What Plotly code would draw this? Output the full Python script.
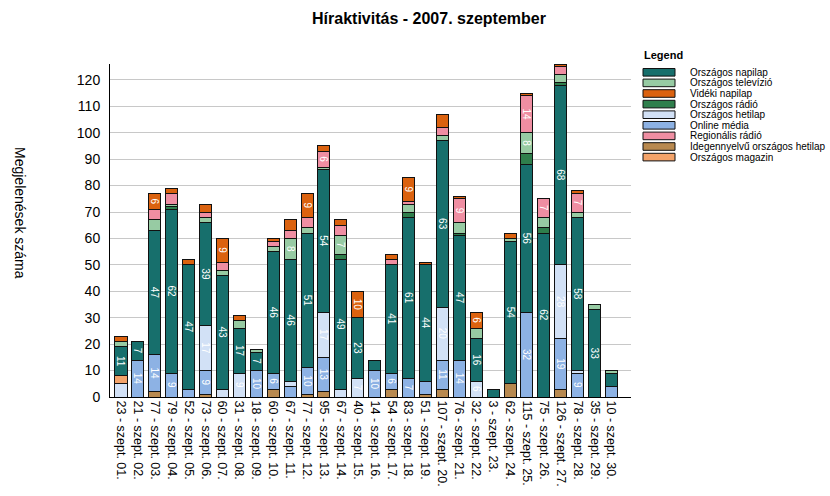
import plotly.graph_objects as go

# ---- data ----
tick_labels = [
    "23 - szept. 01.", "21 - szept. 02.", "77 - szept. 03.", "79 - szept. 04.", "52 - szept. 05.",
    "73 - szept. 06.", "60 - szept. 07.", "31 - szept. 08.", "18 - szept. 09.", "60 - szept. 10.",
    "67 - szept. 11.", "77 - szept. 12.", "95 - szept. 13.", "67 - szept. 14.", "40 - szept. 15.",
    "14 - szept. 16.", "54 - szept. 17.", "83 - szept. 18.", "51 - szept. 19.", "107 - szept. 20.",
    "76 - szept. 21.", "32 - szept. 22.", "3 - szept. 23.", "62 - szept. 24.", "115 - szept. 25.",
    "75 - szept. 26.", "126 - szept. 27.", "78 - szept. 28.", "35 - szept. 29.", "10 - szept. 30.",
]

idegennyelvu = [0, 0, 2, 0, 0, 1, 0, 0, 0, 3, 0, 1, 2, 0, 0, 0, 3, 0, 1, 3, 0, 0, 0, 5, 0, 0, 3, 0, 0, 0]
online_media = [0, 14, 14, 9, 3, 9, 0, 0, 10, 6, 4, 10, 13, 0, 0, 10, 6, 7, 5, 11, 14, 0, 0, 0, 32, 0, 19, 9, 0, 4]
orszagos_hetilap = [5, 0, 0, 0, 0, 17, 3, 9, 0, 0, 2, 0, 17, 3, 7, 0, 0, 0, 0, 20, 0, 6, 0, 0, 0, 0, 28, 1, 0, 0]
orszagos_magazin = [3, 0, 0, 0, 0, 0, 0, 0, 0, 0, 0, 0, 0, 0, 0, 0, 0, 0, 0, 0, 0, 0, 0, 0, 0, 0, 0, 0, 0, 0]
orszagos_napilap = [11, 7, 47, 62, 47, 39, 43, 17, 7, 46, 46, 51, 54, 49, 23, 4, 41, 61, 44, 63, 47, 16, 3, 54, 56, 62, 68, 58, 33, 5]
orszagos_radio = [0, 0, 0, 1, 0, 0, 0, 0, 0, 0, 0, 0, 0, 2, 0, 0, 0, 2, 0, 0, 1, 0, 0, 0, 4, 2, 1, 0, 0, 0]
orszagos_tv = [2, 0, 4, 1, 0, 2, 2, 3, 1, 2, 8, 2, 1, 7, 0, 0, 0, 3, 0, 2, 4, 4, 0, 1, 8, 4, 3, 2, 2, 1]
regionalis_radio = [0, 0, 4, 4, 0, 2, 3, 0, 0, 2, 3, 4, 6, 4, 0, 0, 2, 1, 0, 3, 9, 0, 0, 0, 14, 7, 3, 7, 0, 0]
videki_napilap = [2, 0, 6, 2, 2, 3, 9, 2, 0, 1, 4, 9, 2, 2, 10, 0, 2, 9, 1, 5, 1, 6, 0, 2, 1, 0, 1, 1, 0, 0]

# stacking order bottom -> top
stack = [
    ("Idegennyelvű országos hetilap", idegennyelvu, "#b8894f"),
    ("Online média", online_media, "#8db2e4"),
    ("Országos hetilap", orszagos_hetilap, "#d2e1f6"),
    ("Országos magazin", orszagos_magazin, "#f3a36a"),
    ("Országos napilap", orszagos_napilap, "#176f6c"),
    ("Országos rádió", orszagos_radio, "#2f7f4c"),
    ("Országos televízió", orszagos_tv, "#97cba3"),
    ("Regionális rádió", regionalis_radio, "#ef8ea2"),
    ("Vidéki napilap", videki_napilap, "#db620f"),
]
legend_order = ["Országos napilap", "Országos televízió", "Vidéki napilap", "Országos rádió",
                "Országos hetilap", "Online média", "Regionális rádió",
                "Idegennyelvű országos hetilap", "Országos magazin"]

FONT = "Liberation Sans, Arial, sans-serif"

fig = go.Figure()
for name, vals, col in stack:
    fig.add_trace(go.Bar(
        x=tick_labels,
        y=[v if v > 0 else None for v in vals],
        name=name,
        marker=dict(color=col, line=dict(color="#111111", width=1)),
        text=[str(v) if v >= 6 else "" for v in vals],
        textposition="inside",
        insidetextanchor="middle",
        textangle=90,
        textfont=dict(color="white", size=10, family=FONT),
        constraintext="none",
        hoverinfo="skip",
        showlegend=False,
    ))

# plot area in pixels
L, R, T, B = 110, 631, 64, 397
W, H = 830, 496


def px(x):
    return (x - L) / (R - L)


def py(y):
    return (B - y) / (B - T)


shapes = []
annotations = []

# custom legend
annotations.append(dict(x=px(642), y=py(55), xref="paper", yref="paper", xanchor="left", yanchor="middle",
                        text="<b>Legend</b>", showarrow=False, font=dict(size=11, family=FONT, color="black")))
colmap = {n: c for n, _, c in stack}
for k, name in enumerate(legend_order):
    cy = 72.3 + 10.6 * k
    shapes.append(dict(type="rect", xref="paper", yref="paper",
                       x0=px(643), x1=px(675), y0=py(cy + 3.8), y1=py(cy - 3.8),
                       fillcolor=colmap[name], line=dict(color="#111111", width=1)))
    annotations.append(dict(x=px(688), y=py(cy), xref="paper", yref="paper", xanchor="left", yanchor="middle",
                            text=name, showarrow=False, font=dict(size=10, family=FONT, color="black")))

# y axis title (reads top to bottom)
annotations.append(dict(x=px(20), y=py(213), xref="paper", yref="paper", xanchor="center", yanchor="middle",
                        text="Megjelenések száma", textangle=90, showarrow=False,
                        font=dict(size=14, family=FONT, color="black")))

fig.update_layout(
    barmode="stack",
    bargap=0.29,
    width=W, height=H,
    margin=dict(l=L, r=W - R, t=T, b=H - B, autoexpand=False),
    paper_bgcolor="white",
    plot_bgcolor="white",
    title=dict(text="<b>Híraktivitás - 2007. szeptember</b>", x=429 / W, xref="container", xanchor="center",
               y=1 - 18 / H, yref="container", yanchor="middle",
               font=dict(size=16, family=FONT, color="black")),
    uniformtext=dict(minsize=10, mode="show"),
    shapes=shapes,
    annotations=annotations,
    showlegend=False,
)

fig.update_xaxes(
    type="category",
    range=[-0.65, 30.15],
    tickangle=90,
    tickfont=dict(size=12.5, family=FONT, color="black"),
    showline=True, linecolor="black", linewidth=1,
    showgrid=False, ticks="", ticklen=0,
)
fig.update_yaxes(
    range=[0, 126],
    dtick=10, tick0=0,
    tickfont=dict(size=14, family=FONT, color="black"),
    showline=True, linecolor="black", linewidth=1,
    showgrid=True, gridcolor="#c8c8c8", gridwidth=1,
    zeroline=False, ticks="", ticklabelstandoff=6,
)

fig.write_html("out.html", config={"displayModeBar": False},
               post_script="document.body.style.margin='0';document.body.style.overflow='hidden';")
